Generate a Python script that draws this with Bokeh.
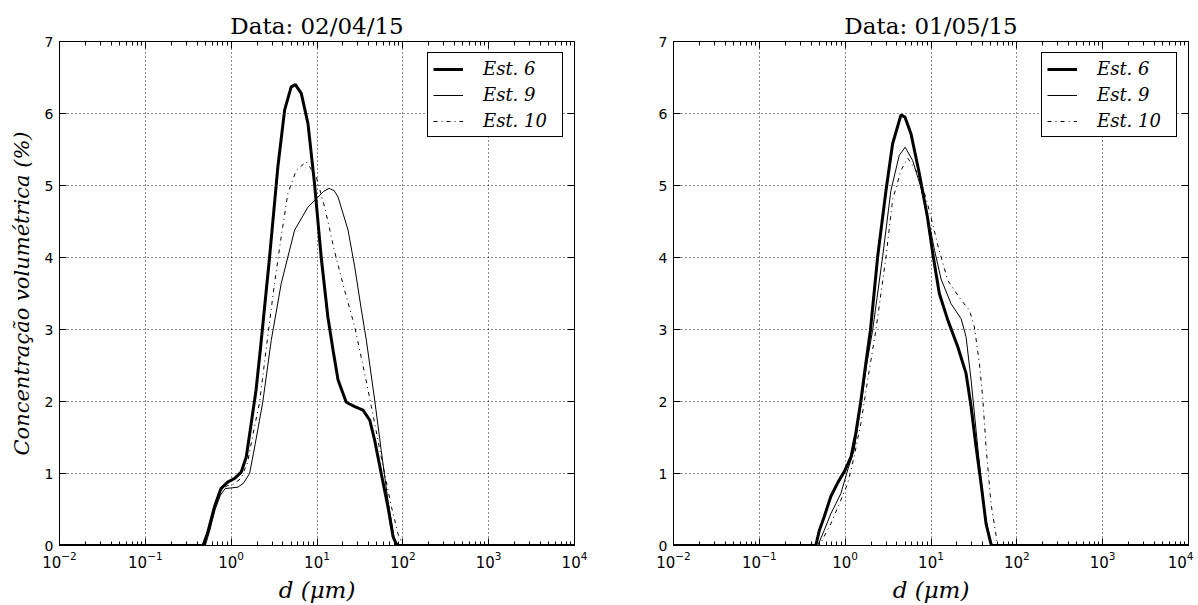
import numpy as np
from bokeh.plotting import figure
from bokeh.layouts import row
from bokeh.models import (LinearAxis, LogAxis, FixedTicker, Legend, LegendItem, Range1d, Title)
from bokeh.embed import file_html
from bokeh.resources import INLINE

# ---------------- data ----------------
x_ticks = [1e-2, 1e-1, 1e0, 1e1, 1e2, 1e3, 1e4]
y_ticks = [0, 1, 2, 3, 4, 5, 6, 7]
series_labels = ["Est. 6", "Est. 9", "Est. 10"]
dates = ["02/04/15", "01/05/15"]

# 02/04/15
d_a6 = [0.01, 0.47, 0.53, 0.64, 0.76, 0.91, 1.09, 1.31, 1.5, 1.71, 1.95, 2.2, 2.8, 3.5, 4.2, 5.0,
        5.6, 6.56, 7.85, 9.35, 11.2, 13.4, 15.4, 17.6, 21.9, 27.5, 34.4, 41.2, 47, 56, 67, 77, 84, 88, 10000]
c_a6 = [0, 0, 0.17, 0.54, 0.79, 0.88, 0.93, 1.02, 1.23, 1.69, 2.16, 2.75, 4.0, 5.26, 6.05, 6.37,
        6.40, 6.28, 5.86, 5.03, 4.0, 3.17, 2.71, 2.30, 1.99, 1.93, 1.88, 1.74, 1.46, 1.0, 0.54, 0.12, 0.02, 0, 0]
d_a9 = [0.01, 0.5, 0.56, 0.65, 0.75, 0.85, 1.0, 1.2, 1.4, 1.64, 1.9, 2.34, 2.93, 3.83, 5.48, 7.85,
        10.3, 12.0, 13.8, 15.8, 17.6, 23, 27.5, 32.9, 37.6, 47, 56, 67, 80, 91, 10000]
c_a9 = [0, 0, 0.2, 0.5, 0.7, 0.79, 0.8, 0.81, 0.87, 1.0, 1.4, 2.0, 2.85, 3.64, 4.38, 4.70,
        4.84, 4.92, 4.96, 4.93, 4.84, 4.38, 3.87, 3.27, 2.85, 2.02, 1.32, 0.63, 0.07, 0, 0]
d_a10 = [0.01, 0.49, 0.55, 0.65, 0.78, 0.9, 1.05, 1.3, 1.55, 1.8, 2.15, 2.6, 3.2, 3.83, 4.58, 5.73,
         7.5, 9.8, 12.3, 15.9, 20.9, 27.5, 35.9, 43, 56, 73.6, 88, 101, 10000]
c_a10 = [0, 0, 0.2, 0.55, 0.78, 0.83, 0.85, 0.93, 1.15, 1.55, 2.0, 2.8, 3.64, 4.29, 4.89, 5.21,
         5.33, 5.12, 4.70, 4.10, 3.55, 3.04, 2.39, 1.93, 1.23, 0.54, 0.16, 0, 0]

# 01/05/15
d_b6 = [0.01, 0.455, 0.50, 0.57, 0.68, 0.81, 1.0, 1.17, 1.33, 1.52, 1.74, 1.97, 2.39, 2.99, 3.57,
        4.47, 4.97, 5.84, 7.3, 9.1, 10.5, 12.5, 15.7, 20.5, 25.6, 29.3, 33.5, 38.3, 43.8, 50, 52, 10000]
c_b6 = [0, 0, 0.21, 0.40, 0.68, 0.86, 1.05, 1.23, 1.56, 2.0, 2.53, 2.99, 4.01, 4.93, 5.58,
        5.98, 5.95, 5.72, 5.17, 4.56, 4.05, 3.5, 3.13, 2.76, 2.39, 1.93, 1.37, 0.86, 0.30, 0.02, 0, 0]
d_b9 = [0.01, 0.48, 0.57, 0.68, 0.89, 1.07, 1.27, 1.52, 1.79, 2.09, 2.73, 3.41, 4.27, 5.0, 6.1,
        7.6, 10, 11, 13.1, 17.1, 22.4, 25.6, 29.3, 33.5, 38.3, 43.8, 51, 10000]
c_b9 = [0, 0, 0.21, 0.44, 0.72, 1.05, 1.32, 1.93, 2.53, 2.99, 4.01, 4.93, 5.42, 5.53, 5.35,
        4.98, 4.35, 4.1, 3.7, 3.36, 3.15, 2.90, 2.30, 1.60, 0.91, 0.35, 0, 0]
d_b10 = [0.01, 0.5, 0.68, 0.89, 1.07, 1.27, 1.52, 1.83, 2.28, 2.99, 3.57, 4.47, 5.35, 6.7, 8.7,
         10.9, 12, 15.7, 22.4, 28, 32, 36.6, 40, 43.8, 50, 57, 59.5, 10000]
c_b10 = [0, 0, 0.30, 0.63, 0.86, 1.23, 1.69, 2.30, 2.99, 4.01, 4.80, 5.21, 5.38, 5.21, 4.84,
         4.38, 4.17, 3.68, 3.41, 3.27, 3.04, 2.53, 2.06, 1.37, 0.58, 0.16, 0, 0]

panels = [
    [(d_a6, c_a6), (d_a9, c_a9), (d_a10, c_a10)],
    [(d_b6, c_b6), (d_b9, c_b9), (d_b10, c_b10)],
]

# ---------------- styling ----------------
SERIF = "DejaVu Serif"
SANS = "DejaVu Sans"
styles = [dict(line_width=3), dict(line_width=1), dict(line_width=1, line_dash="4 4 1 4")]
minor = [k * 10.0 ** n for n in range(-2, 4) for k in range(2, 10)]


def make_panel(series, date, border_left, border_right, ylabel):
    p = figure(x_axis_type="log", x_range=Range1d(1e-2, 1e4), y_range=Range1d(0, 7),
               frame_width=515, frame_height=504,
               min_border_left=border_left, min_border_right=border_right,
               min_border_top=41, min_border_bottom=57,
               output_backend="svg", toolbar_location=None,
               background_fill_color="white", border_fill_color="white")
    p.outline_line_color = "black"
    p.outline_line_width = 1
    p.outline_line_alpha = 1

    xa = p.xaxis[0]
    xa.ticker = FixedTicker(ticks=x_ticks, minor_ticks=minor)
    ya = p.yaxis[0]
    ya.ticker = FixedTicker(ticks=y_ticks)
    for ax in (xa, ya):
        ax.major_tick_in = 7
        ax.major_tick_out = 0
        ax.minor_tick_in = 4
        ax.minor_tick_out = 0
        ax.axis_line_color = "black"
        ax.major_tick_line_color = "black"
        ax.minor_tick_line_color = "black"
        ax.major_label_text_font = SANS
        ax.major_label_text_font_size = "14px"
        ax.major_label_text_color = "black"
        ax.axis_label_text_font = SERIF
        ax.axis_label_text_font_style = "italic"
        ax.axis_label_text_color = "black"
    ya.minor_tick_line_color = None
    xa.major_label_text_font_size = "15px"
    xa.major_label_standoff = 5
    ya.major_label_standoff = 6
    xa.axis_label = "d (μm)"
    xa.axis_label_text_font_size = "23px"
    xa.axis_label_standoff = 6
    if ylabel:
        ya.axis_label = ylabel
        ya.axis_label_text_font_size = "21px"
        ya.axis_label_standoff = 8

    # mirrored ticks on top and right (labels hidden)
    top = LogAxis(ticker=FixedTicker(ticks=x_ticks, minor_ticks=minor),
                  major_label_text_font_size="1px", major_label_text_color=None,
                  major_label_standoff=0,
                  major_tick_in=7, major_tick_out=0, minor_tick_in=4, minor_tick_out=0,
                  axis_line_color="black")
    p.add_layout(top, "above")
    right = LinearAxis(ticker=FixedTicker(ticks=y_ticks),
                       major_label_text_font_size="1px", major_label_text_color=None,
                       major_label_standoff=0,
                       major_tick_in=7, major_tick_out=0, minor_tick_line_color=None,
                       axis_line_color="black")
    p.add_layout(right, "right")

    for g in p.grid:
        g.grid_line_color = "black"
        g.grid_line_dash = "1 3"
        g.grid_line_width = 1
        g.grid_line_alpha = 0.9
    p.xgrid[0].ticker = FixedTicker(ticks=x_ticks)
    p.ygrid[0].ticker = FixedTicker(ticks=y_ticks)

    items = []
    for (d, c), st, lab in zip(series, styles, series_labels):
        r = p.line(d, c, line_color="black", **st)
        items.append(LegendItem(label=lab, renderers=[r]))

    leg = Legend(items=items, location="top_right", margin=11, padding=5, spacing=5,
                 glyph_width=30, glyph_height=20, label_standoff=20, label_height=20,
                 label_width=74,
                 label_text_font=SERIF, label_text_font_style="italic",
                 label_text_font_size="18px", label_text_color="black",
                 border_line_color="black", border_line_width=1, border_line_alpha=1,
                 background_fill_color="white", background_fill_alpha=1)
    p.add_layout(leg)

    p.add_layout(Title(text="Data: " + date, align="center", text_font=SERIF,
                       text_font_style="normal", text_font_size="23px",
                       text_color="black", standoff=5), "above")
    return p


p1 = make_panel(panels[0], dates[0], 59, 59, "Concentração volumétrica (%)")
p2 = make_panel(panels[1], dates[1], 40, 5, None)
layout = row(p1, p2, spacing=0)

open("out.html", "w").write(file_html(layout, INLINE))
